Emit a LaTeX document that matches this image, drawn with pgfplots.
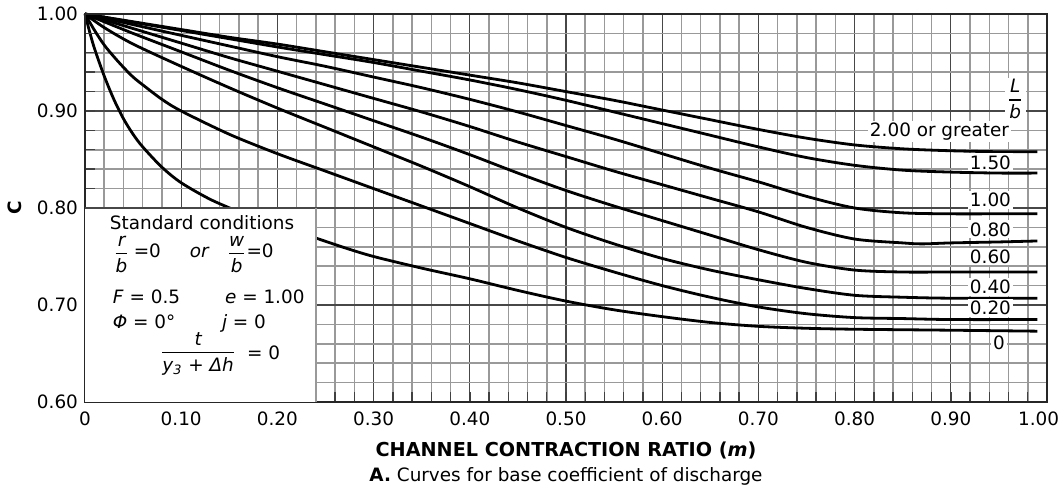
\documentclass[border=0pt]{standalone}
\usepackage{fontspec}
\setmainfont{DejaVu Sans}
\usepackage{amsmath}
\usepackage{pgfplots}
\pgfplotsset{compat=1.18}
\newcommand\fr[2]{\ensuremath{\genfrac{}{}{0.7pt}{0}{\text{\itshape #1}}{\text{\itshape #2}}}}
\pgfplotsset{
  layers/mylayers/.define layer set={axis background,axis grid,pre main,boxlayer,axis ticks,axis lines,axis tick labels,main,axis descriptions,axis foreground}{
    grid style={/pgfplots/on layer=axis grid},
    tick style={/pgfplots/on layer=axis ticks},
    axis line style={/pgfplots/on layer=axis lines},
    label style={/pgfplots/on layer=axis descriptions},
    legend style={/pgfplots/on layer=axis descriptions},
    title style={/pgfplots/on layer=axis descriptions},
    colorbar style={/pgfplots/on layer=axis descriptions},
    ticklabel style={/pgfplots/on layer=axis tick labels},
    axis background@ style={/pgfplots/on layer=axis background},
    3d box foreground style={/pgfplots/on layer=axis foreground},
  },
  crv/.style={black, line width=1.4pt, smooth, mark=none, on layer=pre main},
}
\begin{document}
\begin{tikzpicture}[font=\fontsize{9.2}{11}\selectfont]
\begin{axis}[name=ax, set layers=mylayers,
  width=481pt, height=194pt, scale only axis,
  xmin=0, xmax=1, ymin=0.6, ymax=1,
  xtick={0,0.1,0.2,0.3,0.4,0.5,0.6,0.7,0.8,0.9,1},
  xticklabels={0,0.10,0.20,0.30,0.40,0.50,0.60,0.70,0.80,0.90,\hspace{-8.4pt}1.00},
  ytick={0.6,0.7,0.8,0.9,1},
  yticklabels={0.60,0.70,0.80,0.90,1.00},
  minor x tick num=4, minor y tick num=4,
  grid=both,
  major grid style={black!72, line width=0.6pt},
  minor grid style={black!40, line width=0.75pt},
  axis line style={black!85, line width=0.8pt},
  tick align=inside, major tick length=5pt, minor tick length=5pt,
  tick style={black!75, line width=0.7pt},
  xtick pos=left, ytick pos=left,
  xticklabel style={anchor=base, yshift=-12pt},
  ylabel={\bfseries C},
  every axis y label/.style={at={(axis description cs:-0.073,0.5)}, rotate=90, anchor=center},
  xlabel={\fontsize{9.6}{11}\selectfont\bfseries CHANNEL CONTRACTION RATIO (\textit{m})},
  every axis x label/.style={at={(axis description cs:0.5,0)}, anchor=base, yshift=-27.3pt},
  unbounded coords=jump,
]
% L/b = 2.00 or greater
\addplot[crv] coordinates {(0,1.000) (0.05,0.992) (0.10,0.984) (0.15,0.976) (0.20,0.969) (0.25,0.961) (0.30,0.953) (0.35,0.945) (0.40,0.937) (0.45,0.929) (0.50,0.920) (0.55,0.911) (0.60,0.901) (0.65,0.891) (0.70,0.881) (0.75,0.872) (0.80,0.865) (0.85,0.861) (0.90,0.859) (0.95,0.858) (0.99,0.858)};
% 1.50
\addplot[crv] coordinates {(0,1.000) (0.05,0.9915) (0.10,0.983) (0.15,0.9745) (0.20,0.966) (0.25,0.958) (0.30,0.950) (0.35,0.941) (0.40,0.932) (0.45,0.922) (0.50,0.911) (0.55,0.899) (0.60,0.887) (0.65,0.875) (0.70,0.863) (0.75,0.852) (0.80,0.844) (0.85,0.839) (0.90,0.837) (0.95,0.836) (0.99,0.836)};
% 1.00
\addplot[crv] coordinates {(0,1.000) (0.05,0.989) (0.10,0.978) (0.15,0.967) (0.20,0.956) (0.25,0.946) (0.30,0.935) (0.35,0.924) (0.40,0.912) (0.45,0.899) (0.50,0.885) (0.55,0.871) (0.60,0.856) (0.65,0.841) (0.70,0.827) (0.75,0.812) (0.80,0.800) (0.85,0.795) (0.90,0.794) (0.95,0.794) (0.99,0.794)};
% 0.80
\addplot[crv] coordinates {(0,1.000) (0.05,0.985) (0.10,0.970) (0.15,0.955) (0.20,0.941) (0.25,0.927) (0.30,0.913) (0.35,0.899) (0.40,0.884) (0.45,0.868) (0.50,0.853) (0.55,0.838) (0.60,0.824) (0.65,0.810) (0.70,0.796) (0.75,0.780) (0.80,0.768) (0.85,0.764) (0.87,0.763) (0.90,0.764) (0.95,0.765) (0.99,0.766)};
% 0.60
\addplot[crv] coordinates {(0,1.000) (0.05,0.980) (0.10,0.961) (0.15,0.942) (0.20,0.924) (0.25,0.907) (0.30,0.890) (0.35,0.873) (0.40,0.855) (0.45,0.836) (0.50,0.818) (0.55,0.802) (0.60,0.787) (0.65,0.772) (0.70,0.757) (0.75,0.744) (0.80,0.736) (0.85,0.734) (0.90,0.734) (0.99,0.734)};
% 0.40
\addplot[crv] coordinates {(0,1.000) (0.02,0.986) (0.05,0.969) (0.10,0.946) (0.15,0.924) (0.20,0.903) (0.25,0.883) (0.30,0.863) (0.35,0.843) (0.40,0.822) (0.45,0.800) (0.50,0.780) (0.55,0.763) (0.60,0.748) (0.65,0.736) (0.70,0.726) (0.75,0.717) (0.80,0.710) (0.85,0.708) (0.90,0.707) (0.99,0.707)};
% 0.20
\addplot[crv] coordinates {(0,1.000) (0.01,0.983) (0.02,0.968) (0.03,0.956) (0.04,0.945) (0.05,0.935) (0.06,0.927) (0.08,0.912) (0.10,0.900) (0.15,0.876) (0.20,0.856) (0.25,0.838) (0.30,0.820) (0.35,0.802) (0.40,0.784) (0.45,0.766) (0.50,0.749) (0.55,0.734) (0.60,0.720) (0.65,0.708) (0.70,0.698) (0.75,0.691) (0.80,0.687) (0.85,0.686) (0.90,0.685) (0.99,0.685)};
% 0
\addplot[crv] coordinates {(0,1.000) (0.005,0.981) (0.01,0.964) (0.02,0.936) (0.03,0.912) (0.04,0.892) (0.05,0.876) (0.06,0.863) (0.08,0.842) (0.10,0.826) (0.13,0.809) (0.16,0.796) (0.17,0.792) (0.20,nan) (0.23,0.772) (0.24,0.769) (0.27,0.759) (0.30,0.750) (0.35,0.738) (0.40,0.727) (0.45,0.715) (0.50,0.704) (0.55,0.695) (0.60,0.688) (0.65,0.682) (0.70,0.678) (0.75,0.676) (0.80,0.675) (0.90,0.674) (0.99,0.673)};
% white box of standard conditions
\fill[white, /pgfplots/on layer=boxlayer] (axis cs:0,0.6) rectangle (axis cs:0.24,0.8);
\draw[black!72, line width=0.6pt, /pgfplots/on layer=boxlayer] (axis cs:0,0.8) -- (axis cs:0.24,0.8);
\draw[black!40, line width=0.75pt, /pgfplots/on layer=boxlayer] (axis cs:0.24,0.6) -- (axis cs:0.24,0.8);
\node[anchor=base west, inner sep=0pt] at (axis cs:0.0255,0.778) {Standard conditions};
\node[anchor=west, inner sep=0pt] at (axis cs:0.029,0.7523) {\fr{r}{b}\hspace{2pt}=0\hspace{14.5pt}\textit{or}\hspace{8.5pt}\fr{w}{b}\hspace{0pt}=0};
\node[anchor=base west, inner sep=0pt] at (axis cs:0.0286,0.7020) {\textit{F} = 0.5};
\node[anchor=base west, inner sep=0pt] at (axis cs:0.1452,0.7020) {\textit{e} = 1.00};
\node[anchor=base west, inner sep=0pt] at (axis cs:0.0286,0.6755) {\textit{Φ} = 0°};
\node[anchor=base west, inner sep=0pt] at (axis cs:0.1420,0.6755) {\textit{j} = 0};
\node[inner sep=0pt] at (axis cs:0.1176,0.6495) {\fr{t}{y\textsubscript{3} + Δh}};
\node[anchor=west, inner sep=0pt] at (axis cs:0.168,0.6502) {= 0};
% curve labels
\node[fill=white, inner sep=1pt] at (axis cs:0.967,0.912) {\fr{L}{b}};
\node[fill=white, inner sep=1pt, anchor=east] at (axis cs:0.963,0.879) {2.00 or greater};
\node[fill=white, inner sep=1pt, anchor=east] at (axis cs:0.965,0.847) {1.50};
\node[fill=white, inner sep=1pt, anchor=east] at (axis cs:0.965,0.808) {1.00};
\node[fill=white, inner sep=1pt, anchor=east] at (axis cs:0.965,0.778) {0.80};
\node[fill=white, inner sep=1pt, anchor=east] at (axis cs:0.965,0.750) {0.60};
\node[fill=white, inner sep=1pt, anchor=east] at (axis cs:0.965,0.719) {0.40};
\node[fill=white, inner sep=1pt, anchor=east] at (axis cs:0.965,0.697) {0.20};
\node[fill=white, inner sep=1pt] at (axis cs:0.950,0.661) {0};
\end{axis}
\node[anchor=base] at ([yshift=-40pt]ax.south) {\textbf{A.} Curves for base coefficient of discharge};
\pgfresetboundingbox
\useasboundingbox ([shift={(-42.5pt,-44pt)}]ax.south west) rectangle ([shift={(8.5pt,7pt)}]ax.north east);
\end{tikzpicture}
\end{document}
